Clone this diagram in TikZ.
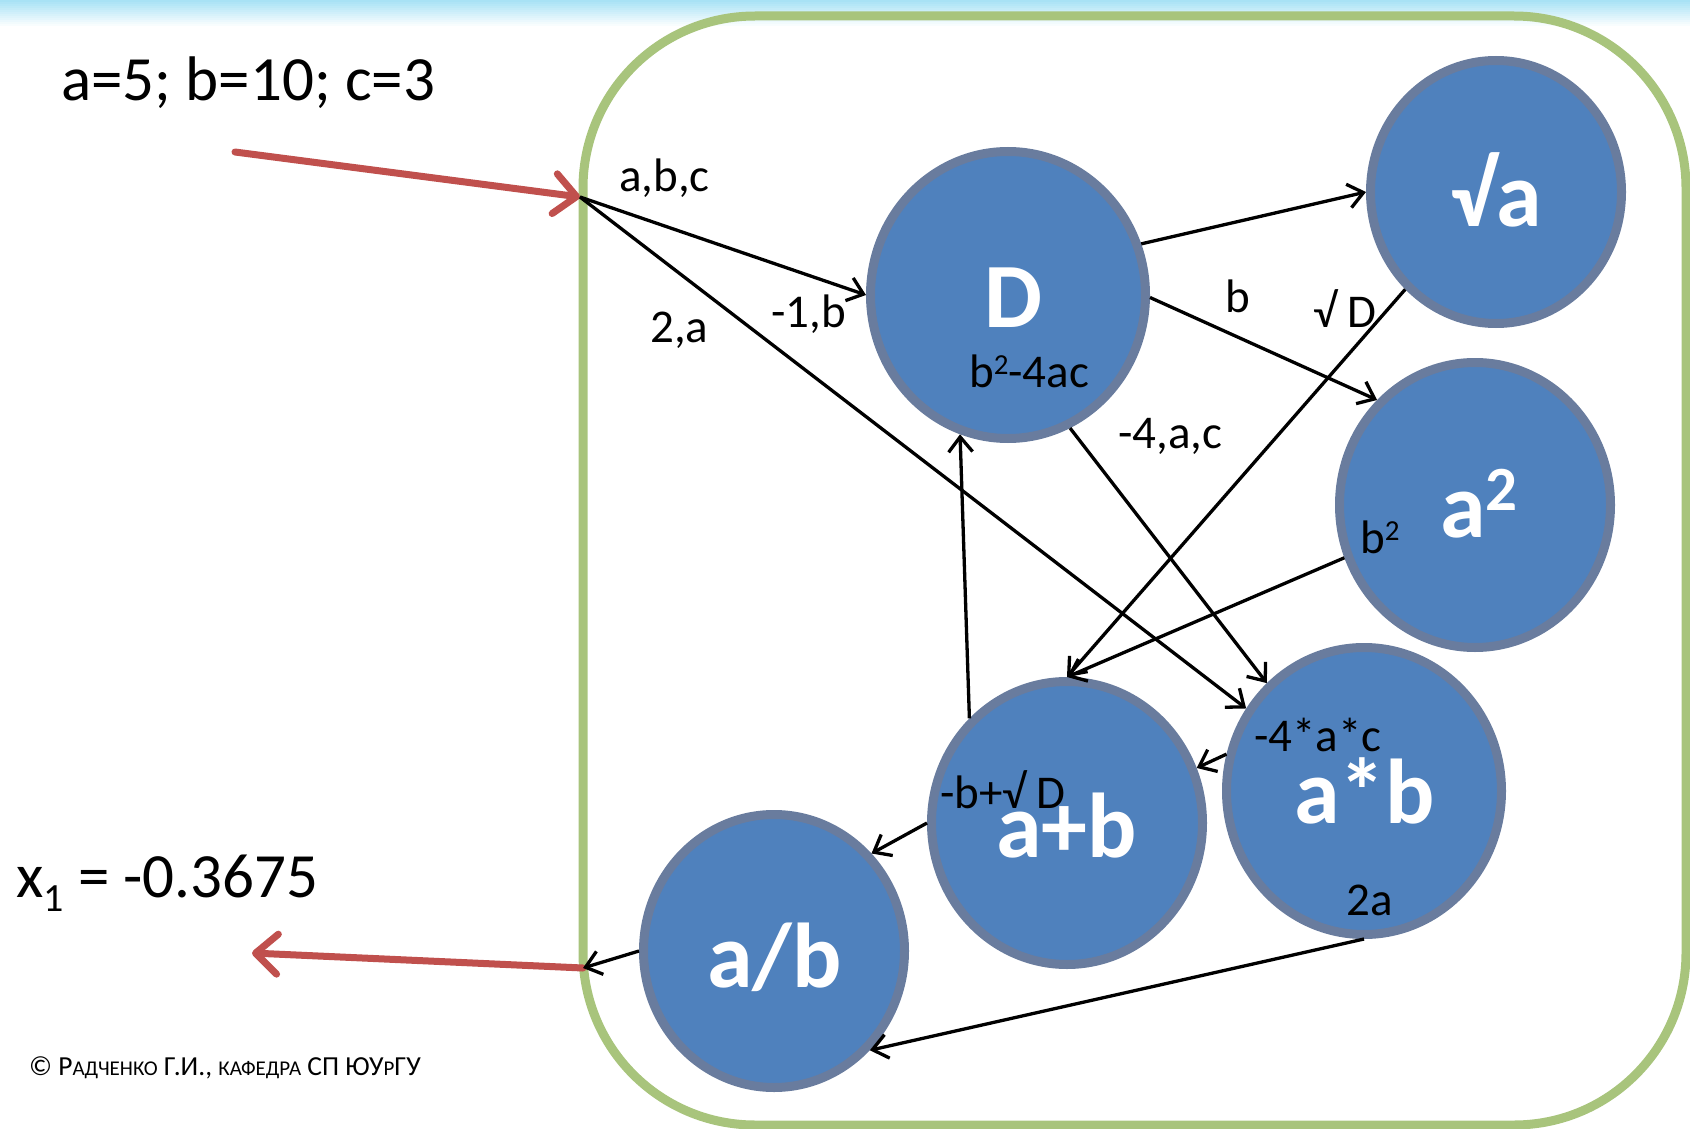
\documentclass[tikz,border=0pt]{standalone}
\usepackage{fontspec}
\setmainfont{Carlito}
\usetikzlibrary{shapes.geometric,arrows.meta}
\definecolor{nodefill}{RGB}{79,129,189}
\definecolor{nodeline}{RGB}{105,124,158}
\definecolor{frame}{RGB}{168,196,124}
\definecolor{redarr}{RGB}{192,80,77}
\definecolor{topband}{RGB}{168,226,245}
\newcommand{\smsup}{\raisebox{13pt}{\fontsize{29}{29}\selectfont 2}}
\begin{document}
\begin{tikzpicture}[x=1pt,y=-1pt,
  op/.style={ellipse, draw=nodeline, fill=nodefill, line width=9pt, inner sep=0pt},
  big/.style={text=white, font=\fontsize{92}{92}\selectfont\bfseries, anchor=base west, inner sep=0pt},
  lbl/.style={font=\fontsize{47}{47}\selectfont, anchor=base west, inner sep=0pt},
  txt/.style={font=\fontsize{63}{63}\selectfont, anchor=base west, inner sep=0pt},
  flow/.style={line width=3.3pt, -{Straight Barb[length=15pt,width=24pt]}},
  io/.style={line width=7pt, redarr, line cap=round, -{Straight Barb[length=22pt,width=40pt,round]}}]
\useasboundingbox (0,0) rectangle (1690,1129);
\foreach \i in {0,...,12}{\pgfmathsetmacro\p{100-\i*100/13}\fill[topband!\p!white] (0,\i*2) rectangle (1690,\i*2+2.5);}
\draw[frame, line width=9pt, rounded corners=172pt] (583,16) rectangle (1686,1125);

% operation nodes
\node[op, minimum width=275pt, minimum height=287pt] (D) at (1008,295) {};
\node[op, minimum width=251pt, minimum height=263pt] (sqa) at (1496,192) {};
\node[op, minimum width=271pt, minimum height=285pt] (asq) at (1475,505) {};
\node[op, minimum width=275pt, minimum height=287pt] (ab) at (1364,791) {};
\node[op, minimum width=271pt, minimum height=283pt] (apb) at (1067,823) {};
\node[op, minimum width=261pt, minimum height=273pt] (adb) at (774,951) {};

% big labels
\node[big] (lD) at (984,327) {D};
\node[big] (lsqa) at (1450,226) {√a};
\node[big] (lasq) at (1440,537) {a\raisebox{27pt}{\fontsize{63}{63}\selectfont\bfseries 2}};
\node[big] (lab) at (1294,823) {a*b};
\node[big] (lapb) at (996,857) {a+b};
\node[big] (ladb) at (707,987) {a/b};

% input / output
\coordinate (in) at (580,197);
\coordinate (out) at (583,968);
\coordinate (rin) at (235,152);
\coordinate (rout) at (252,953);
\draw[io] (rin) -- (in);
\draw[io] (out) -- (rout);

% flows
\draw[flow] (in) -- (D.180);
\draw[flow] (in) -- (ab.145);
\draw[flow] (D.21) -- (sqa.180);
\draw[flow] (D.-1) -- (asq.133);
\draw[flow] (D.-65) -- (ab.132);
\draw[flow] (sqa.227) -- (apb.90);
\draw[flow] (asq.202) -- (apb.90);
\draw[flow] (apb.133) -- (D.251);
\draw[flow] (ab.165) -- (apb.23);
\draw[flow] (apb.180) -- (adb.45);
\draw[flow] (ab.270) -- (adb.-46);
\draw[flow] (adb.180) -- (out);

% small labels
\node[lbl] (tabc) at (619,192) {a,b,c};
\node[lbl] (t2a) at (650,342) {2,a};
\node[lbl] (t1b) at (771,327) {-1,b};
\node[lbl] (tdisc) at (969,387) {b\smsup-4ac};
\node[lbl] (tb) at (1225,312) {b};
\node[lbl] (tsd) at (1313,327) {√ D};
\node[lbl] (t4ac) at (1118,448) {-4,a,c};
\node[lbl] (tb2) at (1360,553) {b\smsup};
\node[lbl] (tm4ac) at (1254,751) {-4*a*c};
\node[lbl] (tbsd) at (940,808) {-b+√ D};
\node[lbl] (t2aa) at (1346,915) {2a};

% texts
\node[txt] (vals) at (61,101) {a=5; b=10; c=3};
\node[txt] (res) at (16,897) {x\raisebox{-14pt}{\fontsize{40}{40}\selectfont 1} = -0.3675};
\node[anchor=base west, inner sep=0pt, font=\fontsize{27.5}{27.5}\selectfont] (copy) at (29,1075)
  {© Р{\fontsize{21}{21}\selectfont АДЧЕНКО} Г.И., {\fontsize{21}{21}\selectfont КАФЕДРА} СП ЮУ{\fontsize{21}{21}\selectfont Р}ГУ};
\end{tikzpicture}
\end{document}
